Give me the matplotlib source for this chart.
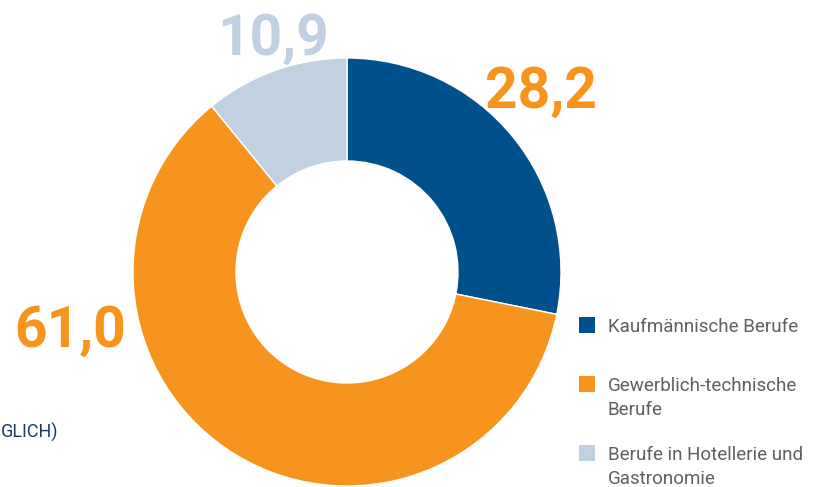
import matplotlib
matplotlib.use("Agg")
import matplotlib.pyplot as plt
from matplotlib.patches import Rectangle

categories = ["Kaufmännische Berufe", "Gewerblich-technische\nBerufe", "Berufe in Hotellerie und\nGastronomie"]
values = [28.2, 61.0, 10.9]
value_labels = ["28,2", "61,0", "10,9"]
colors = ["#00508C", "#F7941D", "#C1D1E1"]
label_colors = ["#F7941D", "#F7941D", "#C1D1E1"]

W, H = 823, 487
fig = plt.figure(figsize=(W / 100, H / 100), dpi=100)
ax = fig.add_axes([0, 0, 1, 1])

def Y(y):
    return H - y

# donut
cx, cy, R = 347, 272, 214
ax.pie(values, colors=colors, startangle=90, counterclock=False,
       center=(cx, Y(cy)), radius=R, frame=True,
       wedgeprops=dict(width=103, edgecolor="white", linewidth=1))
ax.set_xlim(0, W)
ax.set_ylim(0, H)
ax.set_aspect("equal")
ax.axis("off")

# value labels
label_pos = [(485, 108), (14, 347), (217, 55)]
for (x, y), txt, c in zip(label_pos, value_labels, label_colors):
    ax.text(x, Y(y), txt, color=c, fontsize=41, fontweight=600,
            family="Roboto", ha="left", va="baseline")

# legend
leg_base = [332, 391, 460]
for yb, cat, c in zip(leg_base, categories, colors):
    ax.add_patch(Rectangle((579, Y(yb + 1)), 16, 16, color=c, lw=0))
    for i, line in enumerate(cat.split("\n")):
        ax.text(608, Y(yb + 24 * i), line, color="#5F5F5F", fontsize=13.5,
                family="Roboto", ha="left", va="baseline")

# caption fragment on the left
ax.text(1, Y(438), "GLICH)", color="#1F3A5F", fontsize=13,
        family="Roboto", ha="left", va="baseline")

fig.savefig("out.png", dpi=100)
